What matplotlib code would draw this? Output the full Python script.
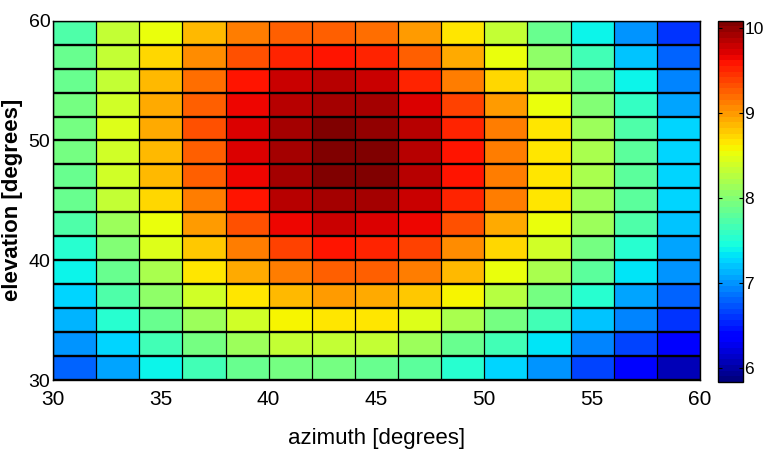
import numpy as np
import matplotlib
matplotlib.use("Agg")
import matplotlib.pyplot as plt


# cell edges (degrees)
azimuth_edges = np.arange(30, 61, 2)
elevation_edges = np.arange(30, 61, 2)

# cell values, rows from elevation 58-60 (top) down to 30-32 (bottom)
values_top_down = [
    [7.75, 8.34, 8.53, 8.86, 9.15, 9.23, 9.23, 9.20, 8.97, 8.66, 8.29, 7.85, 7.42, 6.98, 6.57],
    [7.83, 8.32, 8.72, 9.07, 9.34, 9.53, 9.55, 9.50, 9.23, 8.91, 8.49, 8.08, 7.64, 7.19, 6.81],
    [7.83, 8.35, 8.85, 9.19, 9.55, 9.76, 9.82, 9.76, 9.50, 9.15, 8.74, 8.28, 7.85, 7.42, 6.94],
    [7.91, 8.40, 8.89, 9.23, 9.66, 9.88, 9.94, 9.90, 9.72, 9.35, 8.97, 8.49, 8.00, 7.59, 7.09],
    [7.91, 8.43, 8.91, 9.32, 9.72, 9.94, 10.07, 10.00, 9.82, 9.50, 9.10, 8.64, 8.15, 7.71, 7.23],
    [7.90, 8.38, 8.86, 9.23, 9.70, 9.94, 10.07, 10.05, 9.88, 9.55, 9.15, 8.67, 8.20, 7.80, 7.27],
    [7.85, 8.38, 8.85, 9.23, 9.66, 9.94, 10.07, 10.05, 9.88, 9.55, 9.15, 8.67, 8.20, 7.80, 7.27],
    [7.83, 8.32, 8.72, 9.10, 9.55, 9.83, 9.94, 9.93, 9.80, 9.50, 9.10, 8.64, 8.15, 7.76, 7.27],
    [7.69, 8.15, 8.53, 9.00, 9.34, 9.66, 9.76, 9.74, 9.66, 9.34, 8.93, 8.53, 8.13, 7.69, 7.20],
    [7.55, 8.01, 8.43, 8.81, 9.15, 9.41, 9.55, 9.54, 9.38, 9.05, 8.74, 8.38, 7.93, 7.50, 7.09],
    [7.40, 7.85, 8.20, 8.66, 8.89, 9.15, 9.23, 9.23, 9.10, 8.85, 8.49, 8.17, 7.77, 7.34, 6.98],
    [7.25, 7.71, 8.03, 8.38, 8.64, 8.83, 8.97, 8.93, 8.76, 8.56, 8.24, 7.91, 7.50, 7.09, 6.79],
    [7.11, 7.50, 7.85, 8.13, 8.38, 8.56, 8.66, 8.64, 8.43, 8.20, 7.95, 7.64, 7.19, 6.90, 6.57],
    [6.98, 7.23, 7.64, 7.93, 8.11, 8.30, 8.32, 8.30, 8.09, 7.88, 7.64, 7.30, 6.94, 6.69, 6.33],
    [6.79, 7.09, 7.37, 7.64, 7.83, 7.91, 7.91, 7.88, 7.76, 7.55, 7.27, 7.02, 6.67, 6.38, 6.07],
]

x_ticks = [30, 35, 40, 45, 50, 55, 60]
y_ticks = [30, 40, 50, 60]
cbar_ticks = [6, 7, 8, 9, 10]
c_min, c_max = 5.83, 10.08

TICK_FONT = ["Liberation Sans Narrow", "Liberation Sans", "DejaVu Sans"]


def make_plot():
    Z = np.array(values_top_down)[::-1]

    fig = plt.figure(figsize=(7.63, 4.59), dpi=100)
    ax = fig.add_axes([0.0695, 0.1721, 0.8479, 0.7828])
    cax = fig.add_axes([0.941, 0.1678, 0.0328, 0.7871])

    cmap = plt.get_cmap("jet", 64)
    im = ax.pcolormesh(
        azimuth_edges,
        elevation_edges,
        Z,
        cmap=cmap,
        vmin=c_min,
        vmax=c_max,
        shading="flat",
    )

    # MATLAB style cell edges (rows look heavier in the original)
    ax.hlines(elevation_edges, azimuth_edges[0], azimuth_edges[-1],
              colors="black", lw=1.7, zorder=3)
    ax.vlines(azimuth_edges, elevation_edges[0], elevation_edges[-1],
              colors="black", lw=0.9, zorder=3)

    ax.set_xlim(30, 60)
    ax.set_ylim(30, 60)
    ax.set_xticks(x_ticks)
    ax.set_yticks(y_ticks)
    ax.tick_params(axis="x", direction="in", length=0, pad=7)
    ax.tick_params(axis="y", direction="in", length=0, pad=2)
    for lab in ax.get_xticklabels():
        lab.set_family(TICK_FONT)
        lab.set_fontsize(15)
    for lab in ax.get_yticklabels():
        lab.set_family(TICK_FONT)
        lab.set_fontsize(14)
    for sp in ax.spines.values():
        sp.set_linewidth(1.0)

    ax.set_xlabel("azimuth [degrees]", family=TICK_FONT, fontsize=16, labelpad=14)
    ax.set_ylabel("elevation [degrees]", family=["Liberation Sans", "DejaVu Sans"],
                  fontsize=16, fontweight="bold")
    ax.yaxis.set_label_coords(-0.046, 0.5)

    cbar = fig.colorbar(im, cax=cax)
    cbar.set_ticks(cbar_ticks)
    cbar.ax.tick_params(direction="in", length=3, width=0.8, left=True, right=True,
                        pad=1)
    for lab in cbar.ax.get_yticklabels():
        lab.set_family(TICK_FONT)
        lab.set_fontsize(12.5)
    cbar.outline.set_linewidth(1.0)

    fig.savefig("out.png", dpi=100, facecolor="white")
    plt.close(fig)


if __name__ == "__main__":
    make_plot()
